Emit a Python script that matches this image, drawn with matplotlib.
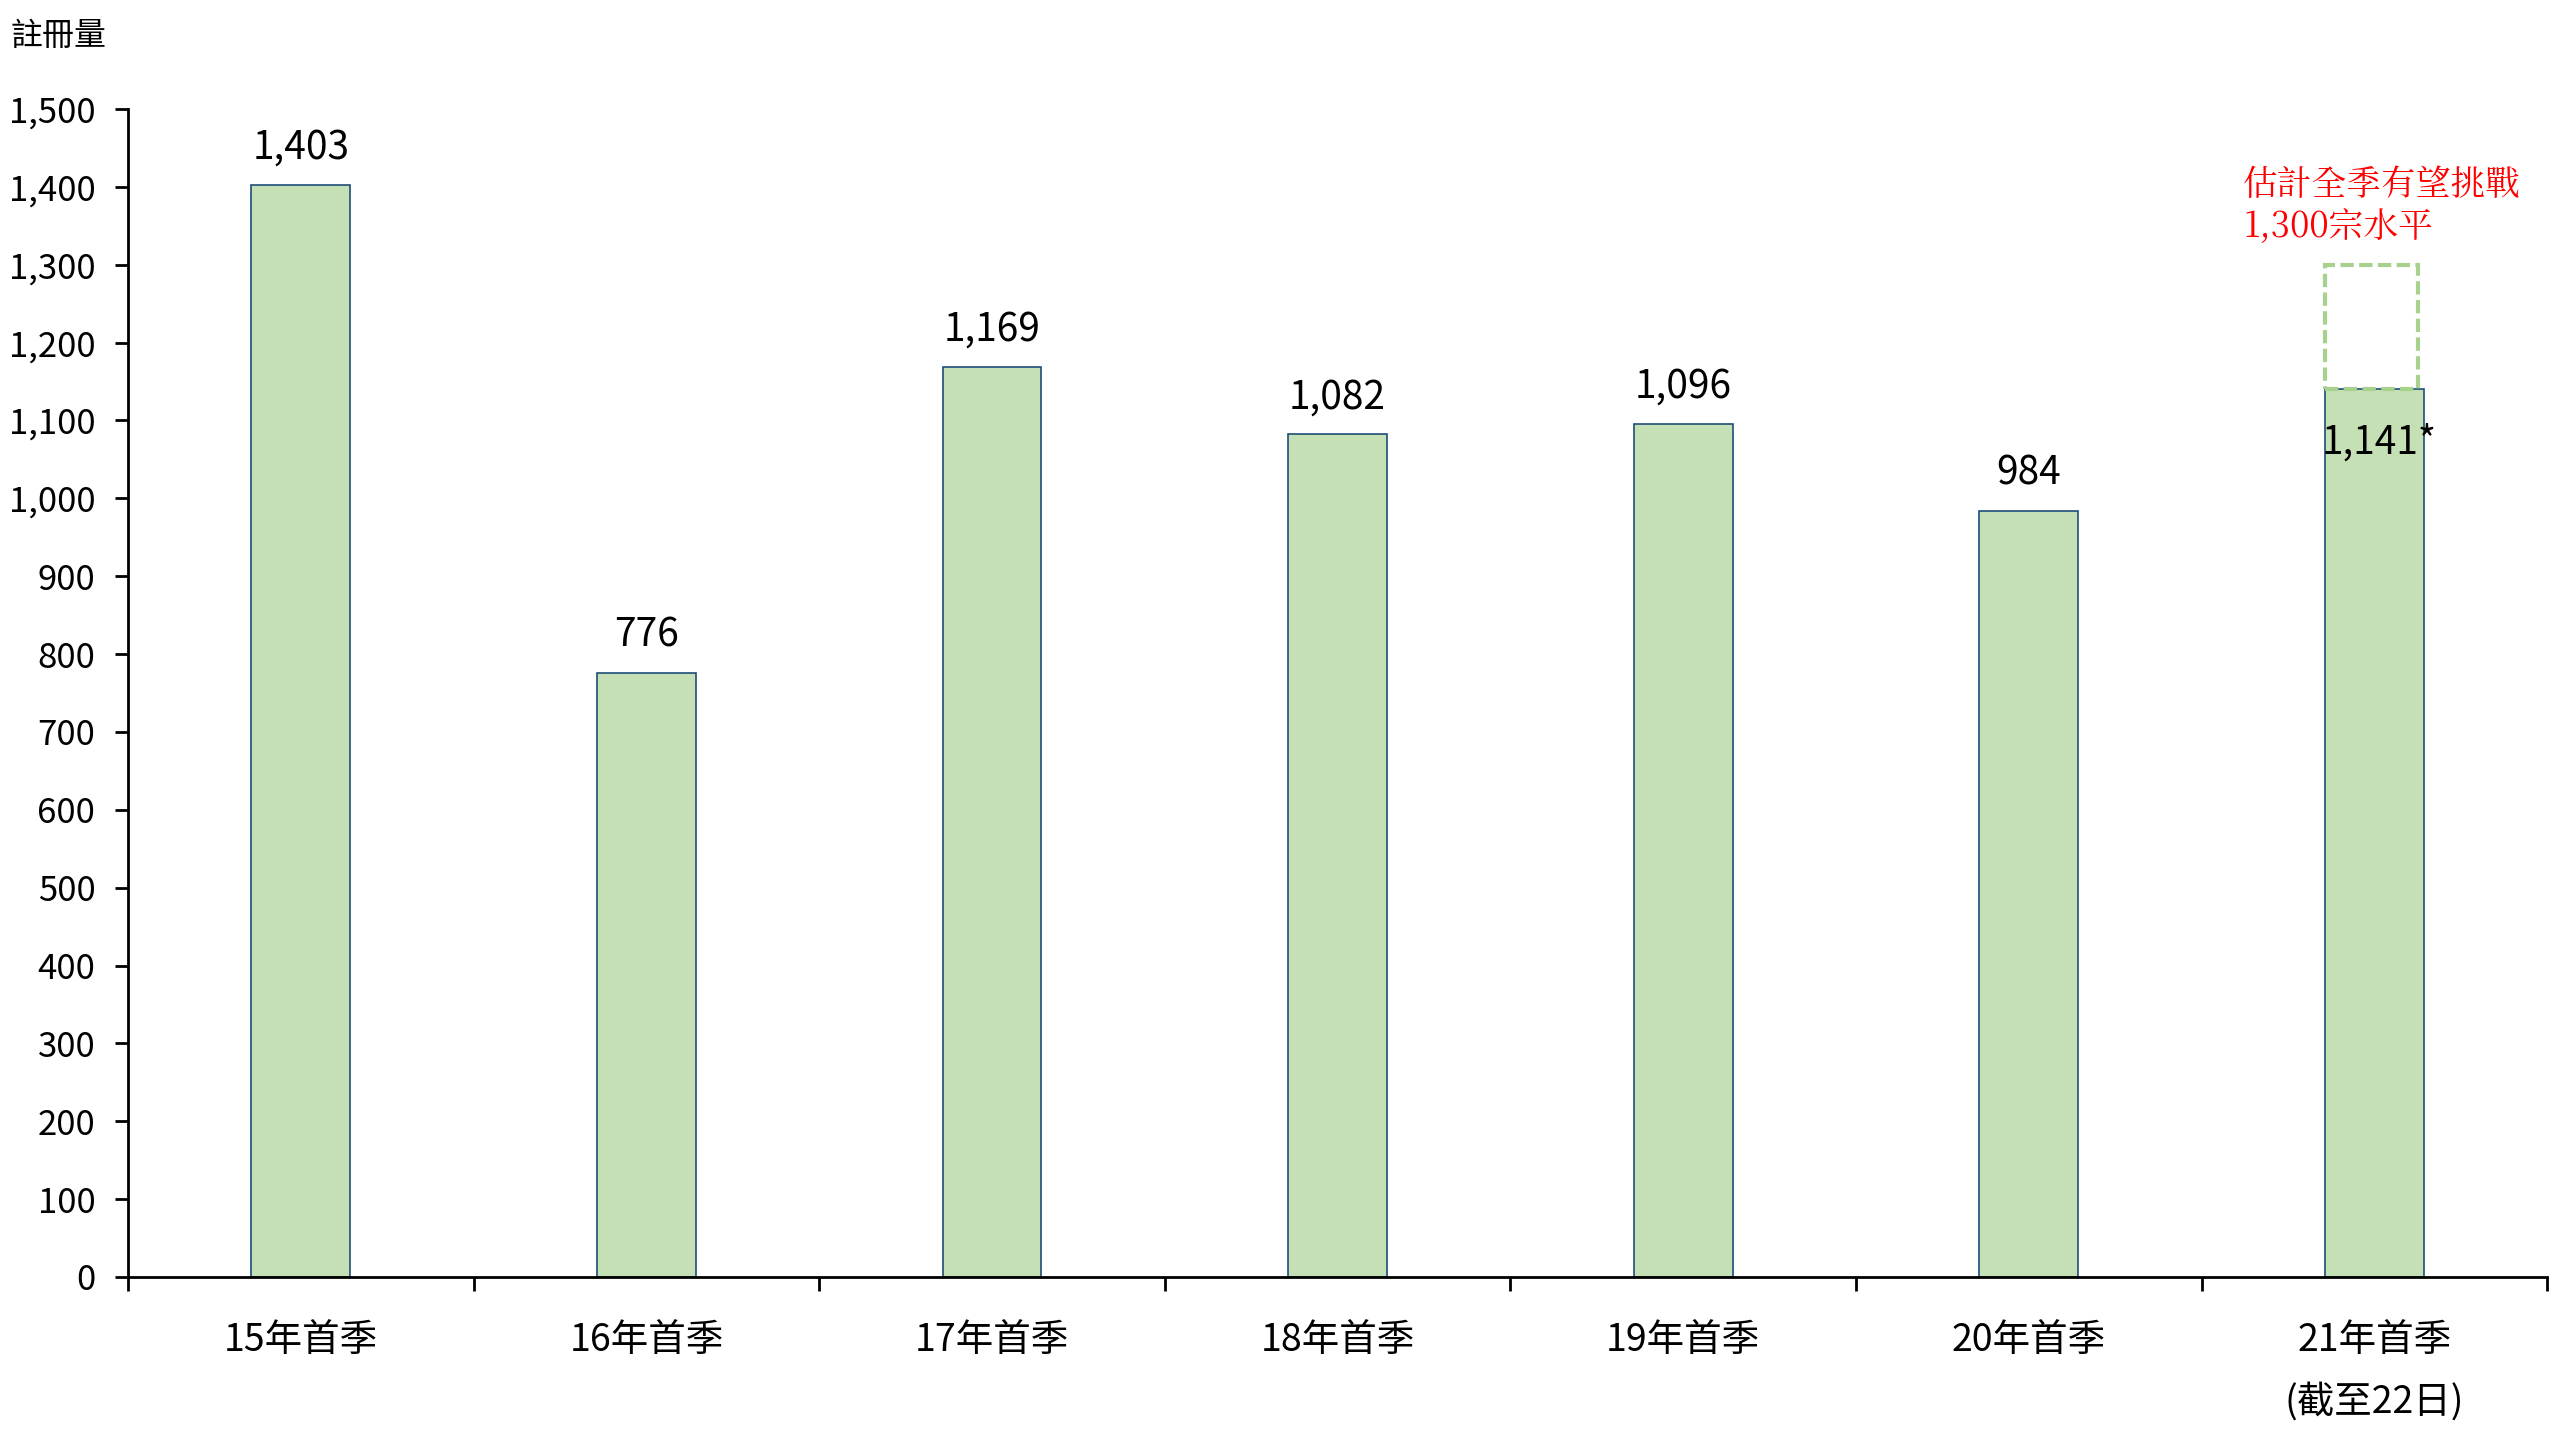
import numpy as np
import matplotlib
matplotlib.use("Agg")
import matplotlib.pyplot as plt
from matplotlib.ticker import FuncFormatter, FixedLocator

plt.rcParams["font.family"] = ["Noto Sans CJK TC", "DejaVu Sans"]
plt.rcParams["font.weight"] = "light"

categories = ["15年首季", "16年首季", "17年首季", "18年首季", "19年首季", "20年首季", "21年首季\n(截至22日)"]
values = [1403, 776, 1169, 1082, 1096, 984, 1141]
value_labels = ["1,403", "776", "1,169", "1,082", "1,096", "984", "1,141*"]
estimate_full = 1300
note = "估計全季有望挑戰\n1,300宗水平"

fig = plt.figure(figsize=(25.6, 14.4), dpi=100)
ax = fig.add_axes([0.05, 0.1132, 0.945, 0.8111])

x = np.arange(len(categories))
bar_w = 0.286
ax.bar(x, values, width=bar_w, color="#C5E0B4", edgecolor="#1F4E79", linewidth=1.2, zorder=2)

# estimated full-season dashed box on the last bar
last = len(values) - 1
ax.bar(x[last] - 0.008, estimate_full - values[last], bottom=values[last], width=bar_w * 0.94,
       facecolor="none", edgecolor="#A9D18E", linewidth=3, linestyle=(0, (3.2, 1.3)), zorder=3)

for i, (v, lab) in enumerate(zip(values, value_labels)):
    if i == last:
        ax.text(x[i] + 0.015, v - 70, lab, ha="center", va="center", fontsize=28, zorder=4)
    else:
        ax.text(x[i], v + 48, lab, ha="center", va="center", fontsize=28)

ax.text(x[last] - 0.38, 1375, note, ha="left", va="center", fontsize=25, color="#FF0000",
        linespacing=1.15, family=["Noto Serif CJK TC", "Noto Sans CJK TC", "DejaVu Sans"])

ax.set_xlim(-0.5, len(categories) - 0.5)
ax.set_ylim(0, 1500)
ax.set_yticks(np.arange(0, 1501, 100))
ax.yaxis.set_major_formatter(FuncFormatter(lambda v, p: f"{int(v):,}"))

ax.set_xticks(x)
ax.set_xticklabels(categories, fontsize=27, linespacing=1.75, va="top")
ax.tick_params(axis="x", which="major", length=0, pad=32)
ax.xaxis.set_minor_locator(FixedLocator(np.arange(-0.5, len(categories), 1.0)))
ax.tick_params(axis="x", which="minor", length=10, width=2, direction="out")
ax.tick_params(axis="y", labelsize=25, length=9.5, width=2, direction="out", pad=14)

for s in ["top", "right"]:
    ax.spines[s].set_visible(False)
ax.spines["left"].set_linewidth(2)
ax.spines["bottom"].set_linewidth(2)

fig.text(0.004, 0.975, "註冊量", fontsize=23, ha="left", va="center")

fig.savefig("out.png", dpi=100)
